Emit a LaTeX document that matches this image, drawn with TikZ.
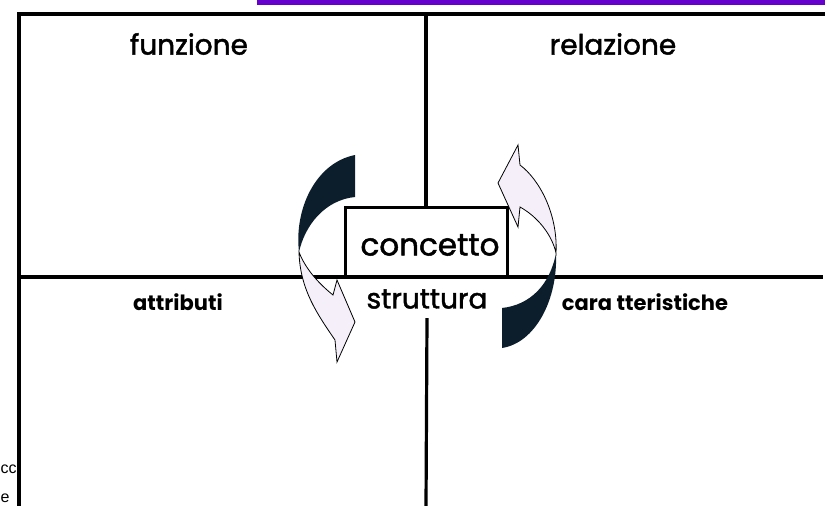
\documentclass[tikz,border=0pt]{standalone}
\usepackage{fontspec}
\setmainfont{Poppins}
\newfontfamily\heavyfont[FakeBold=1.6]{Poppins}
\newfontfamily\fragfont{Liberation Sans}
\definecolor{ribbondark}{HTML}{0C1E2C}
\definecolor{ribbonlight}{HTML}{F4EFF8}
\definecolor{topbar}{HTML}{6600CC}
\tikzset{
  frameline/.style={line width=3.2pt, black},
  conceptbox/.style={draw, line width=3pt, minimum width=162pt, minimum height=70pt, inner sep=0pt},
  bigtext/.style={font=\heavyfont\fontsize{28}{30}\selectfont},
  smalltext/.style={font=\bfseries\fontsize{21}{24}\selectfont},
  fragtext/.style={anchor=base west, font=\fragfont\fontsize{16}{19}\selectfont, inner sep=0pt},
  darkpart/.style={fill=ribbondark},
  lightpart/.style={fill=ribbonlight, draw=black, line width=0.8pt, line join=miter},
}
\begin{document}
\begin{tikzpicture}[x=1pt,y=-1pt]
\useasboundingbox (0,0) rectangle (825,506);
\fill[topbar] (257,0) rectangle (825,5);
% frame coordinates
\coordinate (TL) at (19,14);
\coordinate (TR) at (826,14);
\coordinate (BL) at (19,507);
\coordinate (ML) at (19,277);
\coordinate (MR) at (823,277);
\coordinate (TM) at (426,14);
\coordinate (BM) at (426,507);
% nodes
\node[conceptbox] (concetto) at (426,242) {};
\node[font=\heavyfont\fontsize{31}{33}\selectfont] (concettotxt) at (430,245) {concetto};
\node[bigtext, inner sep=0pt, minimum height=38pt] (struttura) at (427,299) {struttura};
\node[bigtext] (funzione) at (189,44) {funzione};
\node[bigtext] (relazione) at (613,44) {relazione};
\node[smalltext] (attributi) at (178,302) {attributi};
\node[smalltext] (caratteristiche) at (645,302) {cara tteristiche};
\node[fragtext] (frag1) at (0.5,473) {cc};
\node[fragtext] (frag2) at (0.5,502) {e};
% frame lines
\draw[frameline] (BL) -- (TL) -- (TR);
\draw[frameline] (ML) -- (MR);
\draw[frameline] (TM) -- (concetto.north);
\draw[frameline] (struttura.south) -- (BM);
% left ribbon arrow
\fill[darkpart] (355,155) -- (355,197) .. controls (325,200) and (305,225) .. (299,252)
  .. controls (294,210) and (315,163) .. (355,155) -- cycle;
\draw[lightpart] (299,252) .. controls (300,290) and (318,315) .. (335,340) -- (337,362)
  -- (355,322) -- (337,280) -- (333,295) .. controls (318,283) and (305,268) .. (299,252) -- cycle;
% right ribbon arrow
\draw[lightpart] (518,145) -- (498,183) -- (518,227) -- (520,207)
  .. controls (538,217) and (552,235) .. (556,253)
  .. controls (558,215) and (540,180) .. (520,165) -- cycle;
\fill[darkpart] (556,253) .. controls (558,300) and (535,343) .. (502,348) -- (502,308)
  .. controls (530,305) and (550,285) .. (556,253) -- cycle;
\end{tikzpicture}
\end{document}
